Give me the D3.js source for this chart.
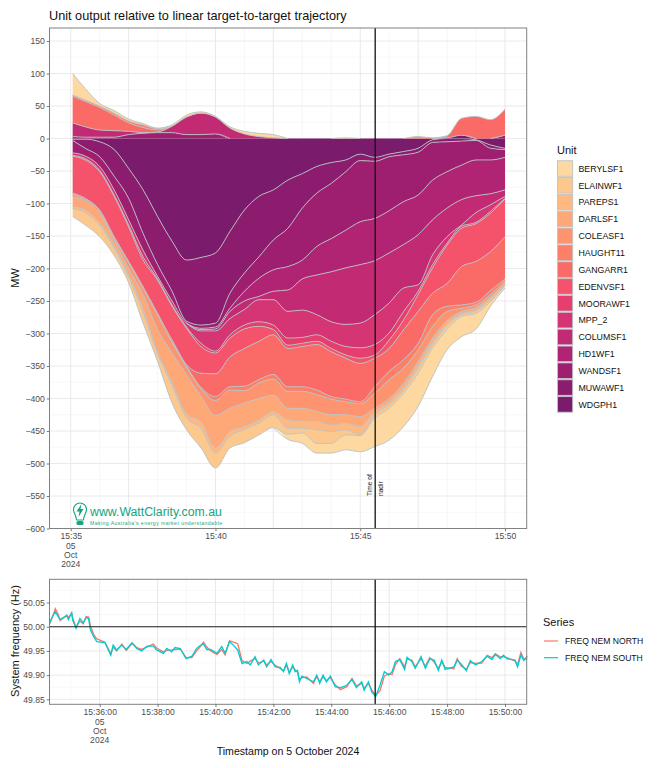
<!DOCTYPE html>
<html>
<head>
<meta charset="utf-8">
<title>Unit output</title>
<script src="https://cdn.jsdelivr.net/npm/d3@7"></script>
<style>
  html, body { margin: 0; padding: 0; background: #fff; }
  svg { display: block; font-family: "Liberation Sans", Arial, sans-serif; }
</style>
</head>
<body>
<script>
// Unit order, outermost band first
const units = ["BERYLSF1", "ELAINWF1", "PAREPS1", "DARLSF1", "COLEASF1", "HAUGHT11", "GANGARR1", "EDENVSF1",
  "MOORAWF1", "MPP_2", "COLUMSF1", "HD1WF1", "WANDSF1", "MUWAWF1", "WDGPH1"];
const unitColours = ["#fdd8a0", "#fdc88e", "#feb882", "#fea878", "#fe946f", "#fd7f68", "#fa6b67", "#f4536b",
  "#e63e6d", "#d63573", "#c22b74", "#b12473", "#9e1f70", "#8c1c6e", "#7a1c6b"];

const stackTimes = ["15:35:04", "15:35:30", "15:36:00", "15:36:30", "15:37:00", "15:37:30", "15:38:00", "15:38:30",
  "15:39:00", "15:39:30", "15:40:00", "15:40:30", "15:41:00", "15:41:30", "15:42:00", "15:42:30", "15:43:00",
  "15:43:30", "15:44:00", "15:44:30", "15:45:00", "15:45:30", "15:46:00", "15:46:30", "15:47:00", "15:47:30",
  "15:48:00", "15:48:30", "15:49:00", "15:49:30", "15:50:00"];

// MW below target, per unit
const belowBeryl = [0,0,0,0,0,0,0,0,0,0, 0,0,0,0,0,8,16,15,15,23, 25,44,49,51,51,44,31,31,24,7, 4];
const belowElain = [12,19,17,11,9,16,12,27,18,30, 23,18,20,18,20,9,7,21,18,8, 1,5,5,5,8,5,7,3,4,3, 1];
const belowPareps = [3,4,4,4,3,6,3,5,6,10, 8,7,5,5,5,13,11,13,10,10, 13,5,5,5,5,5,3,2,2,2, 1];
const belowDarl = [15,14,15,9,10,22,34,45,60,39, 50,36,36,33,25,18,20,15,16,13, 15,5,5,6,5,5,4,3,3,2, 2];
const belowColea = [4,2,3,3,9,9,22,16,12,12, 23,28,19,24,25,26,26,26,24,20, 20,23,29,23,18,18,14,5,4,4, 3];
const belowHaught = [2,2,2,2,2,3,3,4,2,2, 6,5,7,5,7,7,7,7,4,4, 3,10,13,13,10,18,8,5,4,6, 3];
const belowGangarr = [0,0,0,0,0,0,0,0,2,22, 35,46,58,59,61,59,62,70,69,63, 59,44,35,46,49,33,35,59,63,60, 65];
const belowEden = [57,59,59,62,53,41,51,52,56,41, 32,29,30,23,8,5,5,5,5,5, 8,5,13,15,26,39,59,59,58,59, 58];
const belowMoora = [1,2,2,2,3,5,2,2,2,5, 3,5,6,7,7,11,9,10,11,13, 16,16,11,13,5,5,3,3,2,3, 1];
const belowMpp = [4,4,6,8,8,10,4,6,6,19, 31,25,24,34,39,41,42,31,30,34, 38,46,46,36,10,15,10,2,15,10, 3];
const belowColum = [0,0,0,0,0,0,0,0,0,2, 3,11,13,5,13,33,48,61,77,87, 90,83,77,67,77,54,44,39,26,17, 10];
const belowHd1 = [0,0,0,0,0,0,0,0,0,2, 3,5,15,28,33,36,29,44,51,58, 66,65,65,66,61,61,56,53,55,52, 50];
const belowWand = [19,12,15,21,33,26,18,15,3,5, 6,23,28,33,46,59,80,82,85,90, 94,88,83,72,66,58,46,37,30,18, 12];
const belowMuwa = [2,14,23,41,46,67,74,77,94,104, 108,95,97,93,77,74,53,41,32,18, 10,6,4,5,6,4,5,4,1,5, 2];
const belowWdg = [1,1,5,17,46,79,120,158,187,183, 176,143,110,89,79,64,54,43,37,33, 24,29,24,20,15,2,0,0,2,10, 15];

// MW above target, only the units that go above it
const aboveBeryl = [33,18,4,4,3,2,1,2,3,2, 1,2,4,5,5,0,0,0,0,1, 0,0,0,0,0,0,0,0,0,0, 0];
const aboveColea = [0,0,0,0,0,0,0,0,0,0, 0,0,0,0,0,0,0,0,0,0, 0,0,0,0,3,1,0,0,0,0, 0];
const aboveHaught = [2,2,2,3,3,4,2,0,0,0, 0,0,0,0,0,0,0,0,0,0, 0,0,0,0,0,0,0,0,0,0, 0];
const aboveGangarr = [41,39,35,24,13,8,3,0,0,0, 0,0,0,0,0,0,0,0,0,0, 0,0,0,0,0,0,3,26,34,29, 40];
const aboveColum = [21,16,11,10,5,1,1,10,27,33, 26,16,7,3,1,0,0,0,0,0, 0,0,0,0,0,0,0,0,0,0, 0];
const aboveWand = [3,2,2,2,6,8,9,9,6,6, 7,0,0,0,0,0,0,0,0,0, 0,0,0,0,0,0,0,0,0,0, 5];
const aboveWdg = [0,0,0,0,0,0,0,0,0,0, 0,0,0,0,0,0,0,0,0,0, 0,0,0,0,0,0,1,5,0,0, 0];

// Frequency, seconds after 15:34:00
const freqSeconds = [16,19,28,34,38,48,52,55,62,64,
  71,79,86,92,97,101,108,114,131,143,
  148,155,166,175,187,197,207,218,231,238,
  252,259,269,276,287,299,311,321,327,335,
  342,350,363,373,380,389,397,406,415,425,
  432,442,449,460,466,475,484,494,501,507,
  513,520,525,530,534,539,549,563,570,576,
  583,590,598,608,619,632,643,652,663,668,
  677,684,692,701,710,719,726,733,742,752,
  757,767,774,786,795,804,813,822,829,836,
  854,861,869,880,888,899,912,923,933,940,
  950,957,964,981,986,993,999,1006];
const freqNorth = [50.005,50.012,50.037,50.025,50.013,50.020,50.022,50.019,50.027,50.018,
  49.999,50.012,50.006,50.021,50.020,50.001,49.983,49.975,49.968,49.944,
  49.958,49.950,49.964,49.951,49.965,49.957,49.953,49.958,49.964,49.956,
  49.948,49.951,49.952,49.953,49.954,49.936,49.936,49.950,49.957,49.968,
  49.958,49.950,49.943,49.953,49.942,49.971,49.968,49.965,49.930,49.924,
  49.929,49.934,49.925,49.929,49.921,49.928,49.920,49.914,49.909,49.921,
  49.906,49.917,49.911,49.906,49.890,49.895,49.896,49.883,49.897,49.887,
  49.896,49.889,49.895,49.880,49.870,49.876,49.893,49.878,49.883,49.873,
  49.883,49.869,49.858,49.868,49.898,49.903,49.901,49.922,49.934,49.917,
  49.933,49.931,49.917,49.934,49.918,49.936,49.927,49.914,49.928,49.916,
  49.913,49.934,49.919,49.912,49.926,49.924,49.925,49.941,49.936,49.944,
  49.938,49.938,49.936,49.929,49.921,49.947,49.934,49.933];
const freqSouth = [50.007,50.015,50.031,50.021,50.015,50.021,50.024,50.015,50.029,50.014,
  49.997,50.017,50.008,50.019,50.017,49.993,49.979,49.969,49.967,49.941,
  49.962,49.952,49.962,49.953,49.967,49.955,49.950,49.960,49.960,49.952,
  49.945,49.955,49.948,49.957,49.955,49.934,49.939,49.955,49.960,49.965,
  49.953,49.953,49.945,49.959,49.945,49.969,49.962,49.952,49.924,49.928,
  49.921,49.938,49.921,49.931,49.917,49.932,49.917,49.916,49.907,49.924,
  49.903,49.921,49.907,49.910,49.886,49.898,49.893,49.886,49.900,49.883,
  49.900,49.886,49.898,49.876,49.874,49.879,49.891,49.874,49.886,49.869,
  49.886,49.865,49.856,49.879,49.907,49.900,49.907,49.928,49.932,49.912,
  49.937,49.928,49.914,49.938,49.914,49.934,49.931,49.910,49.931,49.912,
  49.917,49.931,49.923,49.909,49.930,49.921,49.928,49.939,49.932,49.943,
  49.934,49.941,49.934,49.931,49.917,49.941,49.930,49.939];

const mwTicks = [150, 100, 50, 0, -50, -100, -150, -200, -250, -300, -350, -400, -450, -500, -550, -600];
const hzTicks = [50.05, 50.00, 49.95, 49.90, 49.85];
const nadirTime = "15:45:31";
const seriesNames = ["FREQ NEM NORTH", "FREQ NEM SOUTH"];
const seriesColours = ["#f8766d", "#00cdd0"];

const below = {BERYLSF1: belowBeryl, ELAINWF1: belowElain, PAREPS1: belowPareps, DARLSF1: belowDarl,
  COLEASF1: belowColea, HAUGHT11: belowHaught, GANGARR1: belowGangarr, EDENVSF1: belowEden,
  MOORAWF1: belowMoora, MPP_2: belowMpp, COLUMSF1: belowColum, HD1WF1: belowHd1,
  WANDSF1: belowWand, MUWAWF1: belowMuwa, WDGPH1: belowWdg};
const above = {BERYLSF1: aboveBeryl, COLEASF1: aboveColea, HAUGHT11: aboveHaught, GANGARR1: aboveGangarr,
  COLUMSF1: aboveColum, WANDSF1: aboveWand, WDGPH1: aboveWdg};

const parseTime = d3.timeParse("%H:%M:%S");
const clock = s => parseTime(s);
const colour = d3.scaleOrdinal(units, unitColours);

const svg = d3.select("body").append("svg").attr("width", 658).attr("height", 768);

const left = 49.5, right = 526.7;
const x = d3.scaleTime().domain([clock("15:34:16"), clock("15:50:45")]).range([left, right]);

// top panel
const top1 = 28, bottom1 = 528.5;
const y = d3.scaleLinear().domain([-600, 170]).range([bottom1, top1]);

svg.append("text").attr("x", 49).attr("y", 20).attr("font-size", 12.7).attr("fill", "#111")
  .text("Unit output relative to linear target-to-target trajectory");

const plot = svg.append("g");

function drawGrid(yScale, yMinor, yMajor, xMinor, xMajor, t, b) {
  const g = plot.append("g").attr("fill", "none");
  g.selectAll(null).data(yMinor).enter().append("line")
    .attr("x1", left).attr("x2", right).attr("y1", yScale).attr("y2", yScale)
    .attr("stroke", "#f3f3f3").attr("stroke-width", 0.6);
  g.selectAll(null).data(xMinor).enter().append("line")
    .attr("y1", t).attr("y2", b).attr("x1", d => x(clock(d))).attr("x2", d => x(clock(d)))
    .attr("stroke", "#f1f1f1").attr("stroke-width", 0.6);
  g.selectAll(null).data(yMajor).enter().append("line")
    .attr("x1", left).attr("x2", right).attr("y1", yScale).attr("y2", yScale)
    .attr("stroke", "#e8e8e8").attr("stroke-width", 0.9);
  g.selectAll(null).data(xMajor).enter().append("line")
    .attr("y1", t).attr("y2", b).attr("x1", d => x(clock(d))).attr("x2", d => x(clock(d)))
    .attr("stroke", "#e6e6e6").attr("stroke-width", 0.9);
}

const mwMinor = d3.range(-575, 170, 50);
drawGrid(y, mwMinor, mwTicks, ["15:36:00", "15:38:00", "15:39:00", "15:41:00", "15:43:00", "15:44:00",
  "15:46:00", "15:48:00", "15:49:00"],
  ["15:35:00", "15:37:00", "15:40:00", "15:42:00", "15:45:00", "15:47:00", "15:50:00"], top1, bottom1);

// stacks start next to zero, so the last unit in the legend goes first
const inner = units.slice().reverse();
const idx = d3.range(stackTimes.length);
const belowStack = d3.stack().keys(inner).value((i, k) => below[k][i])(idx);
const aboveStack = d3.stack().keys(inner.filter(k => above[k])).value((i, k) => above[k][i])(idx);

const bandArea = sign => d3.area().curve(d3.curveMonotoneX)
  .x(d => x(clock(stackTimes[d.data])))
  .y0(d => y(sign * d[0])).y1(d => y(sign * d[1]));

const hasBand = (s, i) => i >= 0 && i < s.length && s[i][1] - s[i][0] > 0;
const edgeLine = (sign, s) => d3.line().curve(d3.curveMonotoneX)
  .defined((d, i) => hasBand(s, i) || hasBand(s, i - 1) || hasBand(s, i + 1))
  .x(d => x(clock(stackTimes[d.data]))).y(d => y(sign * d[1]));

function drawStack(stack, sign) {
  plot.append("g").selectAll("path").data(stack).enter().append("path")
    .attr("d", bandArea(sign)).attr("fill", s => colour(s.key));
  plot.append("g").selectAll("path").data(stack).enter().append("path")
    .attr("d", s => edgeLine(sign, s)(s))
    .attr("fill", "none").attr("stroke", "#b8c2c6").attr("stroke-width", 0.9);
}
drawStack(belowStack, -1);
drawStack(aboveStack, 1);

// axes for the top panel
function styleAxis(g) {
  g.select(".domain").remove();
  g.selectAll(".tick line").attr("stroke", "#444").attr("stroke-width", 0.7);
  g.selectAll(".tick text").attr("fill", "#4d4d4d").attr("font-size", 8.6)
    .attr("font-family", "Liberation Sans, Arial, sans-serif");
}

svg.append("g").attr("transform", `translate(${left},0)`)
  .call(d3.axisLeft(y).tickValues(mwTicks).tickSize(2.7).tickPadding(2)).call(styleAxis);

const xTicks1 = ["15:35:00", "15:40:00", "15:45:00", "15:50:00"];
svg.append("g").attr("transform", `translate(0,${bottom1})`)
  .call(d3.axisBottom(x).tickValues(xTicks1.map(clock)).tickSize(2.7).tickPadding(2)
    .tickFormat(d3.timeFormat("%H:%M"))).call(styleAxis);

function dateLines(tick, baseY) {
  const px = x(clock(tick));
  ["05", "Oct", "2024"].forEach((s, i) => {
    svg.append("text").attr("x", px).attr("y", baseY + i * 9.2).attr("text-anchor", "middle")
      .attr("font-size", 8.6).attr("fill", "#4d4d4d").text(s);
  });
}
dateLines("15:35:00", 549);

svg.append("text").attr("transform", "translate(19,278) rotate(-90)").attr("text-anchor", "middle")
  .attr("font-size", 11).attr("fill", "#111").text("MW");

// nadir line and its label
const nadirX = x(clock(nadirTime));
svg.append("line").attr("x1", nadirX).attr("x2", nadirX).attr("y1", top1).attr("y2", bottom1)
  .attr("stroke", "#111").attr("stroke-width", 1.3);
[["Time of", -3], ["nadir", 7.5]].forEach(p => {
  svg.append("text").attr("transform", `translate(${nadirX + p[1]},496) rotate(-90)`)
    .attr("font-size", 6.6).attr("fill", "#222").text(p[0]);
});

// logo
const logo = svg.append("g").attr("fill", "#12a67f");
logo.append("path").attr("fill", "none").attr("stroke", "#12a67f").attr("stroke-width", 1.1)
  .attr("d", "M76.5 520 C76 514 73.5 513 73.5 509.5 A6.5 6.5 0 0 1 86.5 509.5 C86.5 513 84 514 83.5 520 Z");
logo.append("path").attr("d", "M81.5 504 L76.5 511.5 L79.5 511.5 L78.5 517 L83.5 509 L80.5 509 Z");
logo.append("rect").attr("x", 76.5).attr("y", 521).attr("width", 7).attr("height", 4).attr("rx", 1.5);
logo.append("text").attr("x", 90).attr("y", 516).attr("font-size", 12.3).text("www.WattClarity.com.au");
logo.append("text").attr("x", 90).attr("y", 524.5).attr("font-size", 5.1).attr("letter-spacing", 0.45)
  .text("Making Australia's energy market understandable");

svg.append("rect").attr("x", left).attr("y", top1).attr("width", right - left).attr("height", bottom1 - top1)
  .attr("fill", "none").attr("stroke", "#808080").attr("stroke-width", 1);

// unit legend
svg.append("text").attr("x", 557).attr("y", 154).attr("font-size", 11).attr("fill", "#111").text("Unit");
const keys = svg.append("g").selectAll("g").data(units).enter().append("g")
  .attr("transform", (d, i) => `translate(557.5,${160.7 + i * 16.85})`);
keys.append("rect").attr("width", 15.2).attr("height", 15.6).attr("fill", d => colour(d))
  .attr("stroke", "#bcc4c8").attr("stroke-width", 0.9);
keys.append("text").attr("x", 21).attr("y", 11).attr("font-size", 8.8).attr("fill", "#111").text(d => d);

// frequency panel
const top2 = 579.3, bottom2 = 704.3;
const y2 = d3.scaleLinear().domain([49.8397, 50.098]).range([bottom2, top2]);
drawGrid(y2, [49.875, 49.925, 49.975, 50.025, 50.075], hzTicks,
  ["15:35:00", "15:37:00", "15:39:00", "15:41:00", "15:43:00", "15:45:00", "15:47:00", "15:49:00"],
  ["15:36:00", "15:38:00", "15:40:00", "15:42:00", "15:44:00", "15:46:00", "15:48:00", "15:50:00"], top2, bottom2);

const secToDate = s => new Date(clock("15:34:00").getTime() + s * 1000);
const freqLine = d3.line().x((d, i) => x(secToDate(freqSeconds[i]))).y(d => y2(d));
[freqNorth, freqSouth].forEach((vals, i) => {
  svg.append("path").attr("d", freqLine(vals)).attr("fill", "none")
    .attr("stroke", seriesColours[i]).attr("stroke-width", 1.35);
});

svg.append("line").attr("x1", left).attr("x2", right).attr("y1", y2(50)).attr("y2", y2(50))
  .attr("stroke", "#222").attr("stroke-width", 1.2);
svg.append("line").attr("x1", nadirX).attr("x2", nadirX).attr("y1", top2).attr("y2", bottom2)
  .attr("stroke", "#111").attr("stroke-width", 1.3);
svg.append("rect").attr("x", left).attr("y", top2).attr("width", right - left).attr("height", bottom2 - top2)
  .attr("fill", "none").attr("stroke", "#808080").attr("stroke-width", 1);

svg.append("g").attr("transform", `translate(${left},0)`)
  .call(d3.axisLeft(y2).tickValues(hzTicks).tickSize(2.7).tickPadding(2).tickFormat(d3.format(".2f"))).call(styleAxis);

const xTicks2 = ["15:36:00", "15:38:00", "15:40:00", "15:42:00", "15:44:00", "15:46:00", "15:48:00", "15:50:00"];
svg.append("g").attr("transform", `translate(0,${bottom2})`)
  .call(d3.axisBottom(x).tickValues(xTicks2.map(clock)).tickSize(2.7).tickPadding(2)
    .tickFormat(d3.timeFormat("%H:%M:%S"))).call(styleAxis);
dateLines("15:36:00", 725);

svg.append("text").attr("transform", "translate(19,641) rotate(-90)").attr("text-anchor", "middle")
  .attr("font-size", 11).attr("fill", "#111").text("System frequency (Hz)");
svg.append("text").attr("x", 288).attr("y", 755).attr("text-anchor", "middle")
  .attr("font-size", 10.6).attr("fill", "#111").text("Timestamp on 5 October 2024");

// series legend
svg.append("text").attr("x", 543).attr("y", 626).attr("font-size", 11).attr("fill", "#111").text("Series");
seriesNames.forEach((name, i) => {
  const ky = 641 + i * 16.7;
  svg.append("line").attr("x1", 544).attr("x2", 558).attr("y1", ky).attr("y2", ky)
    .attr("stroke", seriesColours[i]).attr("stroke-width", 1.2);
  svg.append("text").attr("x", 565).attr("y", ky + 3).attr("font-size", 8.6).attr("fill", "#111").text(name);
});
</script>
</body>
</html>
